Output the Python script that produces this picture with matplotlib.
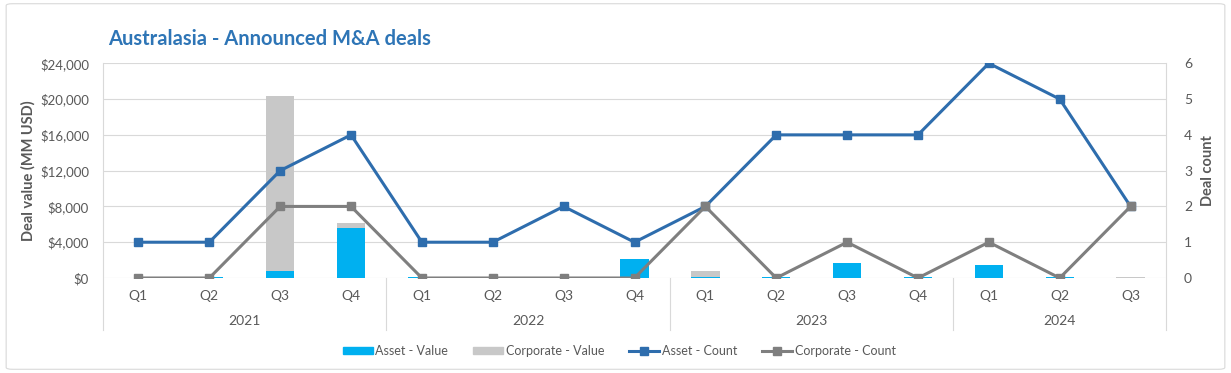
import matplotlib
matplotlib.use('Agg')
import matplotlib.pyplot as plt
from matplotlib.patches import FancyBboxPatch
from matplotlib.lines import Line2D
from matplotlib.patches import Patch
import numpy as np

quarters = ["Q1", "Q2", "Q3", "Q4"] * 3 + ["Q1", "Q2", "Q3"]
years = ["2021", "2022", "2023", "2024"]
year_sizes = [4, 4, 4, 3]

asset_value = [0, 100, 800, 5600, 100, 0, 0, 2100, 100, 150, 1700, 150, 1400, 150, 0]
corporate_value = [0, 0, 19500, 600, 0, 0, 0, 0, 650, 0, 0, 0, 0, 0, 100]
asset_count = [1, 1, 3, 4, 1, 1, 2, 1, 2, 4, 4, 4, 6, 5, 2]
corporate_count = [0, 0, 2, 2, 0, 0, 0, 0, 2, 0, 1, 0, 1, 0, 2]

c_asset_bar = "#00B0F0"
c_corp_bar = "#C8C8C8"
c_asset_line = "#2E6DAD"
c_corp_line = "#7F7F7F"
c_text = "#595959"

plt.rcParams['font.family'] = ['Lato', 'DejaVu Sans']

fig = plt.figure(figsize=(12.31, 3.73), dpi=100)
ax = fig.add_axes([103 / 1231, 1 - 278 / 373, (1166 - 103) / 1231, (278 - 63.3) / 373])

# chart border
fig.patches.append(FancyBboxPatch((0.005, 0.01), 0.99, 0.98, boxstyle="round,pad=0,rounding_size=0.005",
                                  transform=fig.transFigure, fill=False, edgecolor="#D9D9D9", linewidth=0.8))

x = np.arange(len(quarters))
ax.bar(x, asset_value, width=0.4, color=c_asset_bar, zorder=2)
ax.bar(x, corporate_value, width=0.4, bottom=asset_value, color=c_corp_bar, zorder=2)

ax.set_xlim(-0.5, len(quarters) - 0.5)
ax.set_ylim(0, 24000)
ax.set_yticks(np.arange(0, 24001, 4000))
ax.set_yticklabels(["${:,.0f}".format(v) for v in np.arange(0, 24001, 4000)])
ax.yaxis.grid(True, color="#D9D9D9", linewidth=0.8, zorder=0)
ax.set_axisbelow(True)
for s in ax.spines.values():
    s.set_visible(False)
ax.tick_params(axis="both", length=0, labelsize=10, colors=c_text)
ax.tick_params(axis="y", pad=10, labelsize=9.5)
ax.set_xticks(x)
ax.set_xticklabels(quarters)
ax.tick_params(axis="x", pad=9)
ax.set_ylabel("Deal value (MM USD)", fontsize=10.5, fontweight="bold", color=c_text)
ax.yaxis.set_label_coords(-0.063, 0.5)

# two-level category axis
trans = ax.get_xaxis_transform()
edges = np.concatenate([[0], np.cumsum(year_sizes)]) - 0.5
for e in edges:
    ax.plot([e, e], [1 if e in (edges[0], edges[-1]) else 0, -0.242], transform=trans,
            color="#D9D9D9", linewidth=0.8, clip_on=False)
for i, yr in enumerate(years):
    ax.text((edges[i] + edges[i + 1]) / 2, -0.20, yr, transform=trans, ha="center", va="center",
            fontsize=10, color=c_text)

ax2 = ax.twinx()
ax2.plot(x, asset_count, color=c_asset_line, linewidth=2.2, marker="s", markersize=5.5, zorder=3)
ax2.plot(x, corporate_count, color=c_corp_line, linewidth=2.2, marker="s", markersize=5.5, zorder=3)
ax2.set_ylim(0, 6)
ax2.set_yticks(range(7))
for s in ax2.spines.values():
    s.set_visible(False)
ax2.tick_params(axis="y", length=0, labelsize=10, colors=c_text, pad=13)
ax2.set_ylabel("Deal count", fontsize=10.5, fontweight="bold", color=c_text)
ax2.yaxis.set_label_coords(1.033, 0.5)

fig.text(108 / 1231, 1 - 39 / 373, "Australasia - Announced M&A deals", fontsize=14.5,
         fontweight="bold", color="#2E75B6", ha="left", va="center")

handles = [Patch(color=c_asset_bar), Patch(color=c_corp_bar),
           Line2D([], [], color=c_asset_line, linewidth=2.2, marker="s", markersize=5.5),
           Line2D([], [], color=c_corp_line, linewidth=2.2, marker="s", markersize=5.5)]
labels = ["Asset - Value", "Corporate - Value", "Asset - Count", "Corporate - Count"]
fig.legend(handles, labels, loc="center", bbox_to_anchor=(0.503, 1 - 351 / 373), ncol=4, frameon=False,
           fontsize=9, handlelength=2.4, handleheight=0.5, handletextpad=0.2, columnspacing=2.0,
           labelcolor=c_text)

fig.savefig("out.png", dpi=100)
